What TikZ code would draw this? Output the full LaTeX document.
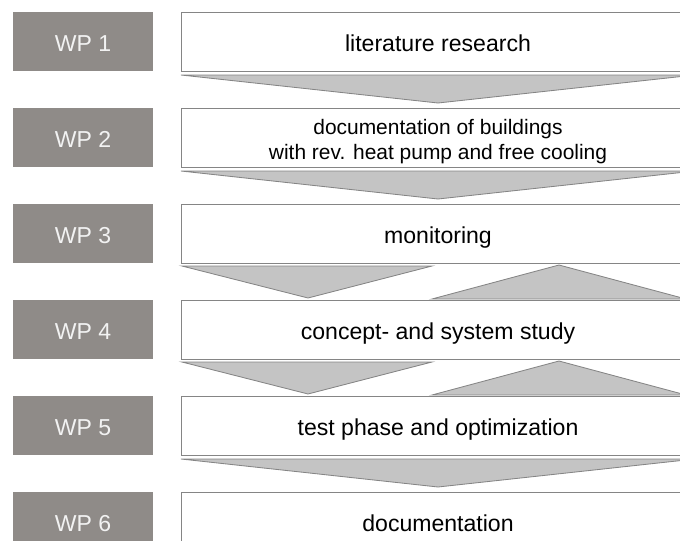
\documentclass[tikz,border=0pt]{standalone}
\usepackage{fontspec}
\setmainfont{Liberation Sans}
\usepackage{xcolor}

\definecolor{wpgray}{HTML}{8F8B88}
\definecolor{wptext}{HTML}{F2F2F2}
\definecolor{linegray}{HTML}{858585}
\definecolor{chevgray}{HTML}{C4C4C4}

\tikzset{
  wp/.style={fill=wpgray, text=wptext, minimum width=3.5cm, minimum height=1.475cm,
    inner sep=0pt, text height=14.6pt, text depth=0pt, font=\fontsize{16.4}{19}\selectfont},
  task/.style={draw=linegray, fill=white, line width=0.6pt, minimum width=12.85cm,
    minimum height=1.475cm, inner sep=0pt, text height=14.6pt, text depth=0pt,
    font=\fontsize{16.4}{19}\selectfont},
  chev/.style={draw=linegray, fill=chevgray, line width=0.6pt, line join=miter}
}

\begin{document}
\begin{tikzpicture}[x=0.025cm,y=-0.025cm]
  \useasboundingbox (0,0) rectangle (680,541);
  \clip (0,0) rectangle (680,541);

  % work packages
  \node[wp] (wp1) at (83,41.5) {WP 1};
  \node[wp] (wp2) at (83,137.5) {WP 2};
  \node[wp] (wp3) at (83,233.5) {WP 3};
  \node[wp] (wp4) at (83,329.5) {WP 4};
  \node[wp] (wp5) at (83,425.5) {WP 5};
  \node[wp] (wp6) at (83,521.5) {WP 6};

  % tasks
  \node[task] (research) at (438,41.5) {literature research};
  \node[task, align=center, text height=31pt, text depth=0pt,
    font=\fontsize{14.9}{17.7}\selectfont] (buildings) at (438,137.5)
    {documentation of buildings\\with rev. heat pump and free cooling};
  \node[task] (monitoring) at (438,233.5) {monitoring};
  \node[task] (concept) at (438,329.5) {concept- and system study};
  \node[task] (testphase) at (438,425.5) {test phase and optimization};
  \node[task] (documentation) at (438,521.5) {documentation};

  % flow between the rows
  \draw[chev] (181,75)-- (695,75)-- (438,103)-- cycle;
  \draw[chev] (181,171)-- (695,171)-- (438,199)-- cycle;

  \draw[chev] (182,266)-- (432,266)-- (308,298)-- cycle;
  \draw[chev] (432,299)-- (686,299)-- (559,265)-- cycle;

  \draw[chev] (182,362)-- (432,362)-- (308,394)-- cycle;
  \draw[chev] (432,395)-- (686,395)-- (559,361)-- cycle;

  \draw[chev] (181,459)-- (695,459)-- (438,487)-- cycle;

\end{tikzpicture}
\end{document}
